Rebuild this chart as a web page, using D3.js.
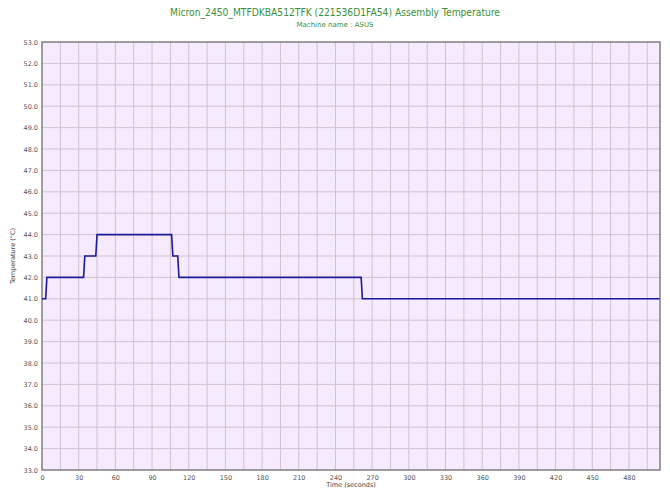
<!DOCTYPE html>
<html><head><meta charset="utf-8">
<script src="https://cdn.jsdelivr.net/npm/d3@7"></script>
<style>body{margin:0;background:#fff}svg{display:block}</style>
</head><body>
<svg id="c" width="670" height="502"></svg>
<script>
const titleText = "Micron_2450_MTFDKBA512TFK (221536D1FA54) Assembly Temperature";
const subtitleText = "Machine name : ASUS";
const xLabel = "Time (seconds)";
const yLabel = "Temperature (\u00B0C)";
const times = [0, 3, 4, 34, 35, 44, 45, 106, 107, 111, 112, 261, 262, 505];
const temps = [41, 41, 42, 42, 43, 43, 44, 44, 43, 43, 42, 42, 41, 41];
const xTicks = [0, 30, 60, 90, 120, 150, 180, 210, 240, 270, 300, 330, 360, 390, 420, 450, 480];
const yTicks = [33, 34, 35, 36, 37, 38, 39, 40, 41, 42, 43, 44, 45, 46, 47, 48, 49, 50, 51, 52, 53];

const svg = d3.select("#c");
const L = 42, R = 660, T = 42, B = 470;
const x = d3.scaleLinear().domain([0, 505.4]).range([L, R]);
const y = d3.scaleLinear().domain([33, 53]).range([B, T]);

svg.append("rect").attr("x", L).attr("y", T).attr("width", R - L).attr("height", B - T).attr("fill", "#f6eafd");

const gridX = d3.range(15, 505, 15);
svg.append("g").selectAll("line").data(gridX).join("line")
  .attr("x1", d => x(d)).attr("x2", d => x(d)).attr("y1", T).attr("y2", B)
  .attr("stroke", "#d2c0d4").attr("stroke-width", 1);
svg.append("g").selectAll("line").data(yTicks.slice(1, -1)).join("line")
  .attr("x1", L).attr("x2", R).attr("y1", d => y(d)).attr("y2", d => y(d))
  .attr("stroke", "#d2c0d4").attr("stroke-width", 1);

const xAxis = svg.append("g").attr("transform", `translate(0,${B})`)
  .call(d3.axisBottom(x).tickValues(xTicks).tickSize(0).tickPadding(5).tickFormat(d3.format("d")));
const yAxis = svg.append("g").attr("transform", `translate(${L},0)`)
  .call(d3.axisLeft(y).tickValues(yTicks).tickSize(0).tickPadding(4).tickFormat(d3.format(".1f")));
[xAxis, yAxis].forEach(g => {
  g.select(".domain").remove();
  g.selectAll("text").attr("font-family", "DejaVu Sans, sans-serif").attr("font-size", 6.5).attr("fill", "#555");
});

svg.append("rect").attr("x", L).attr("y", T).attr("width", R - L).attr("height", B - T)
  .attr("fill", "none").attr("stroke", "#808080").attr("stroke-width", 1.5);

const line = d3.line().x((d, i) => x(times[i])).y(d => y(d));
svg.append("path").datum(temps).attr("d", line)
  .attr("fill", "none").attr("stroke", "#1a1a9a").attr("stroke-width", 1.6);

svg.append("text").attr("x", 335).attr("y", 16).attr("text-anchor", "middle")
  .attr("font-family", "DejaVu Sans, sans-serif").attr("font-size", 10.5).attr("fill", "#3a8f3a")
  .attr("textLength", 330).attr("lengthAdjust", "spacingAndGlyphs").text(titleText);
svg.append("text").attr("x", 335).attr("y", 27).attr("text-anchor", "middle")
  .attr("font-family", "DejaVu Sans, sans-serif").attr("font-size", 7).attr("fill", "#3a8f3a").text(subtitleText);
svg.append("text").attr("x", 351).attr("y", 487).attr("text-anchor", "middle")
  .attr("font-family", "DejaVu Sans, sans-serif").attr("font-size", 6.5).attr("fill", "#444").text(xLabel);
svg.append("text").attr("transform", "translate(15,256) rotate(-90)").attr("text-anchor", "middle")
  .attr("font-family", "DejaVu Sans, sans-serif").attr("font-size", 6.5).attr("fill", "#444").text(yLabel);
</script>
</body></html>
